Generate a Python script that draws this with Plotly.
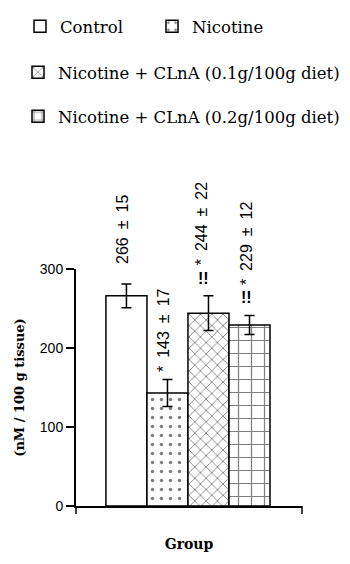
import plotly.graph_objects as go

groups = ["Control", "Nicotine", "Nicotine + CLnA (0.1g/100g diet)", "Nicotine + CLnA (0.2g/100g diet)"]
means = [266, 143, 244, 229]
sems = [15, 17, 22, 12]
labels = ["266 ± 15", "* 143 ± 17", "* 244 ± 22", "* 229 ± 12"]
marks = ["", "", "!!", "!!"]
y_ticks = [0, 100, 200, 300]

# styling
patterns = ["", ".", "x", "+"]
legend_ids = ["legend", "legend4", "legend2", "legend3"]
label_shift = [22, 10, 33, 32]
mark_shift = [0, 0, 10, 11]
label_xshift = [-4, -4, -7, -3]
mark_xshift = [0, 0, -5, -3]

SP = "\u2002"  # en space, to widen spacing like the original


def spaced(t):
    return t.replace(" ", SP)


fig = go.Figure()
for g, m, s, p, lg in zip(groups, means, sems, patterns, legend_ids):
    fig.add_trace(go.Bar(
        x=[g], y=[m], name=g, legend=lg, width=1.0,
        marker=dict(color="white", line=dict(color="black", width=1.5),
                    pattern=dict(shape=p, fgcolor="black", bgcolor="white",
                                 size={"": 8, ".": 9, "x": 8, "+": 13}[p],
                                 solidity={"": 0.2, ".": 0.12, "x": 0.2, "+": 0.18}[p])),
        error_y=dict(type="data", array=[s], color="black", thickness=1.5, width=5),
    ))

# value labels (rotated) above the bars
for g, m, s, t, mk, ls, ms, lx, mx in zip(groups, means, sems, labels, marks,
                                          label_shift, mark_shift, label_xshift, mark_xshift):
    if mk:
        fig.add_annotation(x=g, y=m + s, text="<b>" + mk + "</b>", showarrow=False,
                           yanchor="bottom", xanchor="center", xshift=mx, yshift=ms - 3,
                           font=dict(family="Liberation Sans", size=16, color="black"))
    fig.add_annotation(x=g, y=m + s, text=spaced(t), textangle=-90, showarrow=False,
                       yanchor="bottom", xanchor="center", xshift=lx, yshift=ls - 4,
                       font=dict(family="Liberation Sans", size=16, color="black"))

leg_font = dict(family="DejaVu Serif", size=16.5, color="black")
common = dict(orientation="h", xref="container", yref="container", xanchor="left", yanchor="top",
              font=leg_font, bgcolor="rgba(0,0,0,0)", itemwidth=30)
fig.update_layout(
    width=350, height=564,
    margin=dict(l=68, r=56, t=261, b=66),
    paper_bgcolor="white", plot_bgcolor="white",
    barmode="overlay",
    showlegend=True,
    legend=dict(common, x=12 / 350, y=1 - 1 / 564),
    legend4=dict(common, x=144 / 350, y=1 - 1 / 564),
    legend2=dict(common, x=10 / 350, y=1 - 47 / 564),
    legend3=dict(common, x=10 / 350, y=1 - 91 / 564),
    xaxis=dict(type="category", range=[-1.23, 4.28], showticklabels=False, ticks="",
               automargin=False,
               showline=True, linecolor="black", linewidth=2, showgrid=False, zeroline=False,
               title=dict(text="<b>Group</b>", font=dict(family="DejaVu Serif", size=14, color="black"),
                          standoff=32)),
    yaxis=dict(range=[0, 300], tickvals=y_ticks, ticks="outside", ticklen=8, tickwidth=1.5,
               automargin=False,
               tickcolor="black", showline=True, linecolor="black", linewidth=2,
               showgrid=False, zeroline=False,
               tickfont=dict(family="Liberation Sans", size=14, color="black"),
               title=dict(text="<b>(nM / 100 g tissue)</b>",
                          font=dict(family="DejaVu Serif", size=13, color="black"), standoff=12)),
)

# small end ticks on x axis line
for xp in [0, 1]:
    fig.add_shape(type="line", xref="paper", yref="paper", x0=xp, x1=xp, y0=0, y1=-8 / 237,
                  line=dict(color="black", width=1.5))

fig.write_html("out.html")
